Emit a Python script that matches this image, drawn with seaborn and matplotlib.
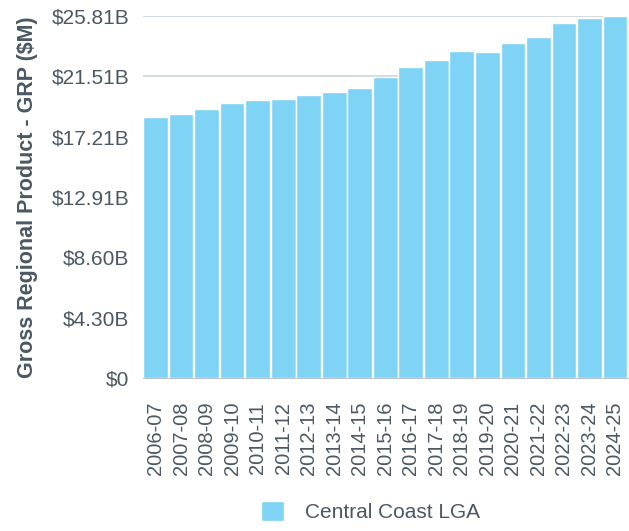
import numpy as np
import pandas as pd
import seaborn as sns
import matplotlib.pyplot as plt
from matplotlib.ticker import FixedLocator

years = ['2006-07', '2007-08', '2008-09', '2009-10', '2010-11', '2011-12', '2012-13',
         '2013-14', '2014-15', '2015-16', '2016-17', '2017-18', '2018-19', '2019-20',
         '2020-21', '2021-22', '2022-23', '2023-24', '2024-25']
grp_billions = [18.59, 18.82, 19.18, 19.61, 19.82, 19.87, 20.18, 20.39, 20.68, 21.48,
                22.20, 22.69, 23.29, 23.22, 23.89, 24.29, 25.29, 25.67, 25.81]
region = ['Central Coast LGA'] * len(years)

ytick_values = [0, 4.30, 8.60, 12.91, 17.21, 21.51, 25.81]
ytick_labels = ['$0', '$4.30B', '$8.60B', '$12.91B', '$17.21B', '$21.51B', '$25.81B']

df = pd.DataFrame({'Year': years, 'GRP': grp_billions, 'Region': region})

sns.set_style("white")
plt.rcParams['font.family'] = ['Liberation Sans', 'DejaVu Sans']
text_col = '#4b5863'
grid_col = '#c9d5da'

fig = plt.figure(figsize=(6.29, 5.31), dpi=100)
ax = fig.add_axes([0.227, 0.288, 0.771, 0.682])

sns.barplot(data=df, x='Year', y='GRP', hue='Region', palette=['#7fd3f5'],
            width=0.97, edgecolor='white', linewidth=1, saturation=1, ax=ax, zorder=2)

ax.set_ylim(0, 25.81)
ax.set_xlim(-0.5, 18.5)
ax.yaxis.set_major_locator(FixedLocator(ytick_values))
ax.set_yticklabels(ytick_labels)
ax.yaxis.grid(True, color=grid_col, linewidth=1.2, zorder=0)
ax.set_axisbelow(True)
ax.tick_params(axis='y', labelsize=15, labelcolor=text_col, length=6, color=grid_col, width=1)
ax.tick_params(axis='x', labelsize=14.5, labelcolor=text_col, length=4, pad=13, color=grid_col)
for lbl in ax.get_xticklabels():
    lbl.set_rotation(90)

ax.set_xlabel('')
ax.set_ylabel('Gross Regional Product - GRP ($M)', fontsize=15.5, fontweight='bold',
              color=text_col, labelpad=10)

sns.despine(ax=ax, left=True, top=True, right=True)
ax.spines['bottom'].set_color('#b8c4c9')

leg = ax.legend(loc='upper center', bbox_to_anchor=(0.47, -0.31), frameon=False,
                fontsize=15, handlelength=1.1, handleheight=1.1, handletextpad=1.0,
                borderpad=0)
for t in leg.get_texts():
    t.set_color(text_col)

fig.savefig('out.png', dpi=100)
